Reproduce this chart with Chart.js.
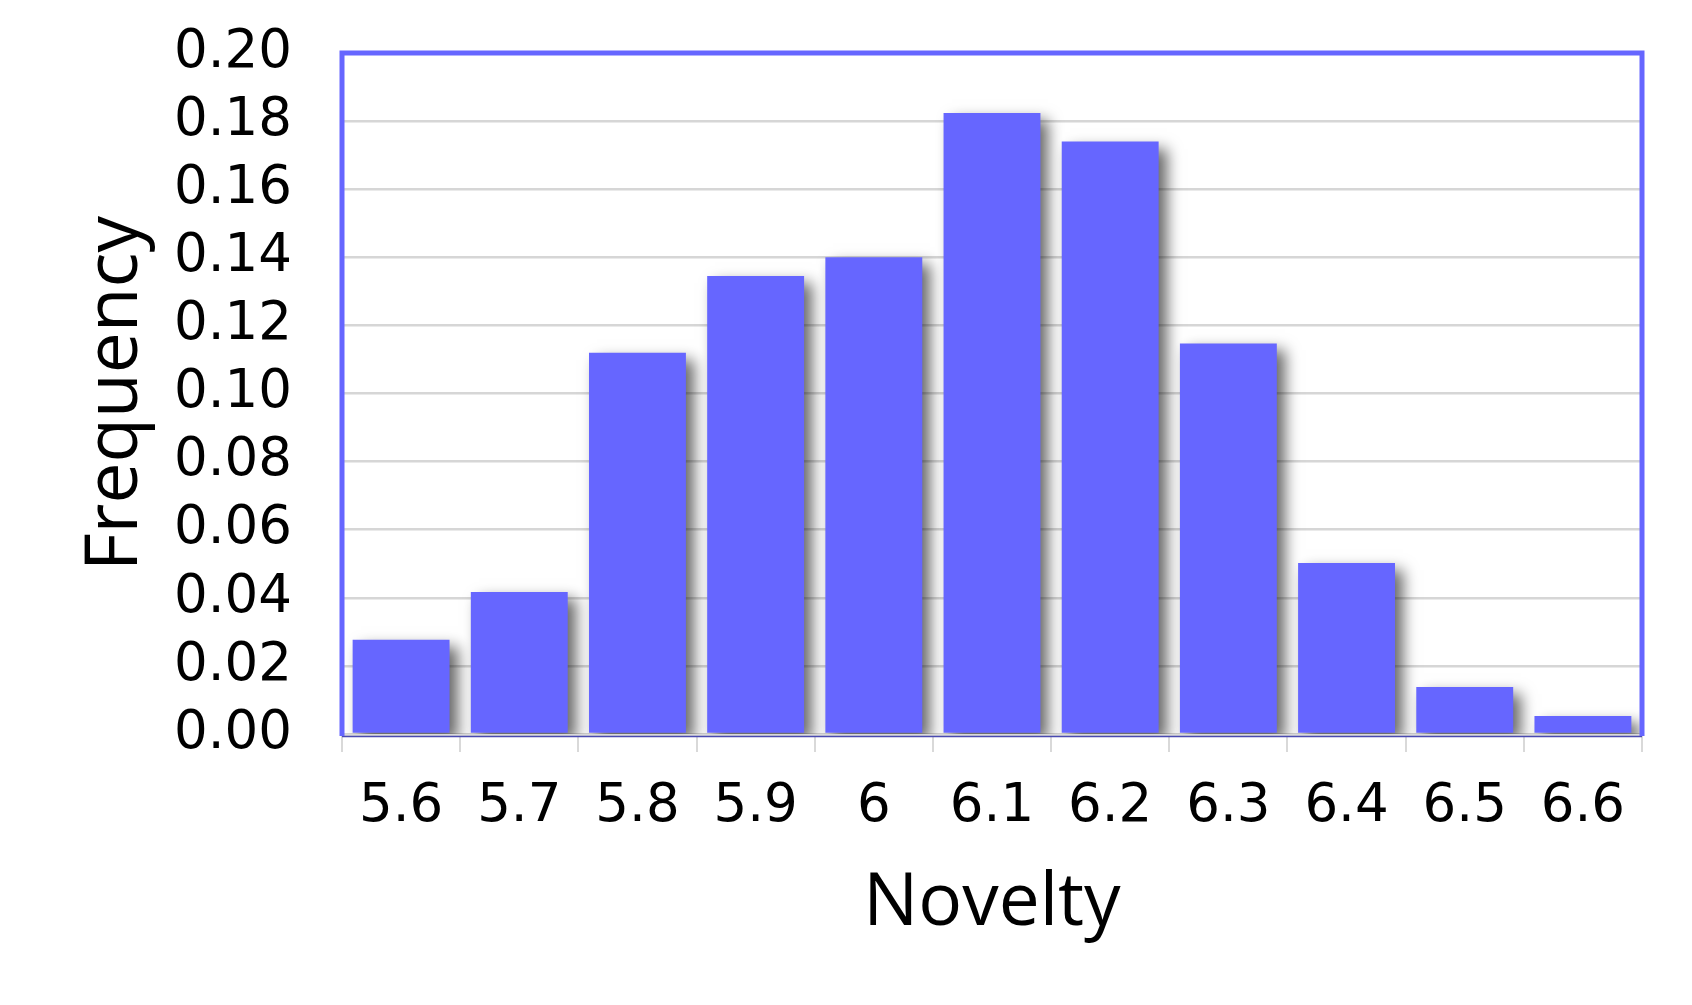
<!DOCTYPE html>
<html>
<head>
<meta charset="utf-8">
<script src="https://cdn.jsdelivr.net/npm/chart.js@4"></script>
<style>
html,body{margin:0;padding:0;background:#fff;}
#wrap{width:1692px;height:1005px;}
</style>
</head>
<body>
<div id="wrap"><canvas id="c" width="1692" height="1005"></canvas></div>
<script>
const categories = ['5.6','5.7','5.8','5.9','6','6.1','6.2','6.3','6.4','6.5','6.6'];
const frequency = [0.0277, 0.0417, 0.1120, 0.1345, 0.1400, 0.1824, 0.1740, 0.1147, 0.0502, 0.0138, 0.0053];
const yTicks = [0, 0.02, 0.04, 0.06, 0.08, 0.10, 0.12, 0.14, 0.16, 0.18, 0.20];
const xTitle = 'Novelty';
const yTitle = 'Frequency';

const BLUE = '#6666ff';

const shadowPlugin = {
  id: 'shadow',
  beforeDatasetsDraw(chart) {
    const ctx = chart.ctx;
    ctx.save();
    ctx.shadowColor = 'rgba(0,0,0,0.6)';
    ctx.shadowBlur = 14;
    ctx.shadowOffsetX = 8;
    ctx.shadowOffsetY = 7;
  },
  afterDatasetsDraw(chart) {
    chart.ctx.restore();
  }
};

const framePlugin = {
  id: 'frame',
  afterDraw(chart) {
    const {ctx, chartArea: a} = chart;
    ctx.save();
    ctx.strokeStyle = '#d9d9d9';
    ctx.lineWidth = 2;
    ctx.beginPath();
    ctx.moveTo(a.left, a.bottom + 1);
    ctx.lineTo(a.right, a.bottom + 1);
    ctx.stroke();
    ctx.strokeStyle = '#4a4ab0';
    ctx.lineWidth = 1.5;
    ctx.beginPath();
    ctx.moveTo(a.left, a.bottom + 2.5);
    ctx.lineTo(a.right, a.bottom + 2.5);
    ctx.stroke();
    ctx.strokeStyle = BLUE;
    ctx.lineWidth = 5;
    ctx.lineJoin = 'miter';
    ctx.beginPath();
    ctx.moveTo(a.left, a.bottom + 2);
    ctx.lineTo(a.left, a.top);
    ctx.lineTo(a.right, a.top);
    ctx.lineTo(a.right, a.bottom + 2);
    ctx.stroke();
    ctx.restore();
  }
};

new Chart(document.getElementById('c'), {
  type: 'bar',
  data: {
    labels: categories,
    datasets: [{
      data: frequency,
      backgroundColor: BLUE,
      borderWidth: 0,
      barPercentage: 0.82,
      categoryPercentage: 1.0
    }]
  },
  options: {
    responsive: false,
    devicePixelRatio: 1,
    animation: false,
    layout: { padding: { top: 53, right: 50, left: 0, bottom: 0 } },
    plugins: { legend: { display: false }, tooltip: { enabled: false } },
    scales: {
      x: {
        afterFit(scale) { scale.height = 271; scale.paddingLeft = 0; scale.paddingRight = 0; },
        grid: {
          drawOnChartArea: false,
          drawTicks: true,
          tickLength: 18,
          color: '#d9d9d9',
          lineWidth: 2,
          offset: true
        },
        border: { display: false },
        ticks: {
          color: '#000',
          font: { family: 'DejaVu Sans', size: 53 },
          padding: 23,
          maxRotation: 0,
          autoSkip: false
        },
        title: {
          display: true,
          text: xTitle,
          color: '#000',
          font: { family: 'Open Sans', size: 73 },
          padding: { top: 0, bottom: 57 }
        }
      },
      y: {
        min: 0,
        max: 0.2,
        afterFit(scale) { scale.width = 342; scale.paddingTop = 0; scale.paddingBottom = 0; },
        afterBuildTicks(scale) { scale.ticks = yTicks.map(v => ({ value: v })); },
        grid: {
          color: '#d6d6d6',
          lineWidth: 2.5,
          drawTicks: false
        },
        border: { display: false },
        ticks: {
          color: '#000',
          font: { family: 'DejaVu Sans', size: 53 },
          padding: 50,
          autoSkip: false,
          callback: (v) => Number(v).toFixed(2)
        },
        title: {
          display: true,
          text: yTitle,
          color: '#000',
          font: { family: 'Open Sans', size: 73 },
          padding: { top: 72, bottom: 0 }
        }
      }
    }
  },
  plugins: [shadowPlugin, framePlugin]
});
</script>
</body>
</html>
